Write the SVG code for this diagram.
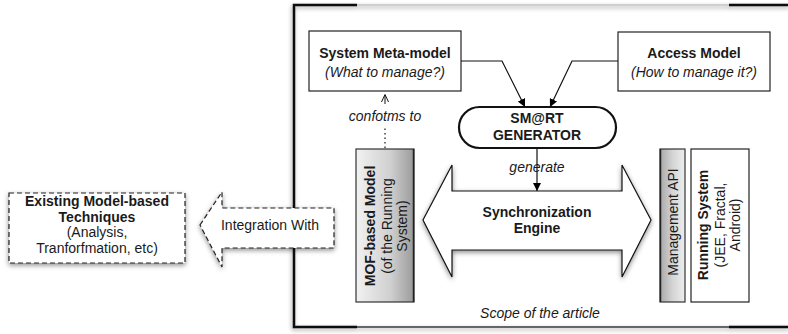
<svg xmlns="http://www.w3.org/2000/svg" width="788" height="334" viewBox="0 0 788 334">
<style>
text{font-family:"Liberation Sans",Arial,sans-serif;font-size:14px;fill:#1a1a1a;text-anchor:middle}
.b{font-weight:bold}
.i{font-style:italic}
.box{fill:#fff;stroke:#222;stroke-width:1.2}
.dash{fill:#fff;stroke:#222;stroke-width:1.2;stroke-dasharray:5 3}
.conn{fill:none;stroke:#111;stroke-width:1.2}
</style>
<defs>
<marker id="ah" viewBox="0 0 10 10" refX="10" refY="5" markerWidth="8" markerHeight="8" orient="auto" markerUnits="userSpaceOnUse">
<path d="M0,0 L10,5 L0,10 z" fill="#000"/>
</marker>
<marker id="ahl" viewBox="0 0 12 12" refX="10" refY="6" markerWidth="10" markerHeight="10" orient="auto" markerUnits="userSpaceOnUse">
<path d="M0,0 L10,5 L0,10 z" fill="#000"/>
</marker>
<filter id="sh" x="-20%" y="-20%" width="140%" height="140%">
<feDropShadow dx="0" dy="2" stdDeviation="2.5" flood-color="#000" flood-opacity="0.45"/>
</filter>
<filter id="shf" x="-5%" y="-5%" width="110%" height="110%">
<feDropShadow dx="-1" dy="2" stdDeviation="2" flood-color="#000" flood-opacity="0.35"/>
</filter>
<linearGradient id="gMof" x1="0" y1="0" x2="1" y2="0">
<stop offset="0" stop-color="#f2f2f2"/>
<stop offset="0.6" stop-color="#cfcfcf"/>
<stop offset="1" stop-color="#9a9a9a"/>
</linearGradient>
<linearGradient id="gApi" x1="0" y1="0" x2="1" y2="0">
<stop offset="0" stop-color="#a8a8a8"/>
<stop offset="0.5" stop-color="#d4d4d4"/>
<stop offset="1" stop-color="#eeeeee"/>
</linearGradient>
</defs>

<!-- scope frame -->
<g id="frame" filter="url(#shf)">
<line x1="357" y1="5" x2="729" y2="5" stroke="#cfcfcf" stroke-width="2"/>
<line x1="357" y1="327" x2="729" y2="327" stroke="#666" stroke-width="2"/>
<path d="M357,5 H294 V327 H357" fill="none" stroke="#111" stroke-width="2.5"/>
<line x1="729" y1="5" x2="790" y2="5" stroke="#111" stroke-width="2.5"/>
<line x1="729" y1="327" x2="790" y2="327" stroke="#111" stroke-width="2.5"/>
</g>
<text class="i" x="540" y="318">Scope of the article</text>

<!-- connectors -->
<g id="connectors">
<path class="conn" d="M461,61 H502 L525,107" marker-end="url(#ah)"/>
<path class="conn" d="M618,61 H572 L550,107" marker-end="url(#ah)"/>
<line x1="385" y1="148" x2="385" y2="126" stroke="#111" stroke-width="1.2" stroke-dasharray="1.5 3"/>
<line x1="385" y1="104" x2="385" y2="95" stroke="#111" stroke-width="1"/>
<path d="M381.5,102 L385,94.5 L388.5,102" fill="none" stroke="#111" stroke-width="1"/>
<text class="i" x="385" y="121">confotms to</text>
<line x1="537" y1="148" x2="537" y2="191" stroke="#111" stroke-width="1.2" marker-end="url(#ah)"/>
<text class="i" x="537" y="172">generate</text>
</g>

<g id="metamodel">
<rect class="box" x="309" y="31" width="152" height="60"/>
<text class="b" x="385" y="58">System Meta-model</text>
<text class="i" x="385" y="77">(What to manage?)</text>
</g>

<g id="accessmodel">
<rect class="box" x="618" y="32" width="152" height="59"/>
<text class="b" x="694" y="58">Access Model</text>
<text class="i" x="694" y="77">(How to manage it?)</text>
</g>

<g id="generator">
<rect x="459" y="107" width="157" height="41" rx="20.5" fill="#fff" stroke="#111" stroke-width="2.2"/>
<text class="b" x="537" y="123">SM@RT</text>
<text class="b" x="537" y="140">GENERATOR</text>
</g>

<g id="syncengine">
<path d="M423,220 L452,165 L452,191 L622,191 L622,165 L651,220 L622,277 L622,250 L452,250 L452,277 Z" fill="#fff" stroke="#111" stroke-width="1.2" filter="url(#sh)"/>
<text class="b" x="537" y="217">Synchronization</text>
<text class="b" x="537" y="233">Engine</text>
</g>

<g id="mofmodel">
<rect x="356" y="149" width="58" height="153" fill="url(#gMof)" stroke="#333" stroke-width="1.2"/>
<line x1="413.5" y1="149" x2="413.5" y2="302" stroke="#222" stroke-width="1.5"/>
<g transform="translate(385,226) rotate(-90)">
<text class="b" x="0" y="-10">MOF-based Model</text>
<text x="0" y="7">(of the Running</text>
<text x="0" y="22">System)</text>
</g>
</g>

<g id="mgmtapi">
<rect x="660" y="149" width="25" height="153" fill="url(#gApi)" stroke="#333" stroke-width="1.2"/>
<line x1="660.5" y1="149" x2="660.5" y2="302" stroke="#222" stroke-width="1.5"/>
<text transform="translate(672.5,222) rotate(-90)" x="0" y="5">Management API</text>
</g>

<g id="runningsystem">
<rect class="box" x="691" y="149" width="58" height="153"/>
<g transform="translate(720,225) rotate(-90)">
<text class="b" x="0" y="-12">Running System</text>
<text x="0" y="5">(JEE, Fractal,</text>
<text x="0" y="20">Android)</text>
</g>
</g>

<g id="integration">
<path class="dash" d="M200,225 L222,192 L222,208 L334,208 L334,248 L222,248 L222,267 Z" filter="url(#sh)"/>
<text x="270" y="230">Integration With</text>
</g>

<g id="existing">
<rect class="dash" x="9" y="193" width="176" height="70" filter="url(#sh)"/>
<text class="b" x="97" y="206">Existing Model-based</text>
<text class="b" x="97" y="222">Techniques</text>
<text x="97" y="237">(Analysis,</text>
<text x="97" y="253">Tranforfmation, etc)</text>
</g>
</svg>
